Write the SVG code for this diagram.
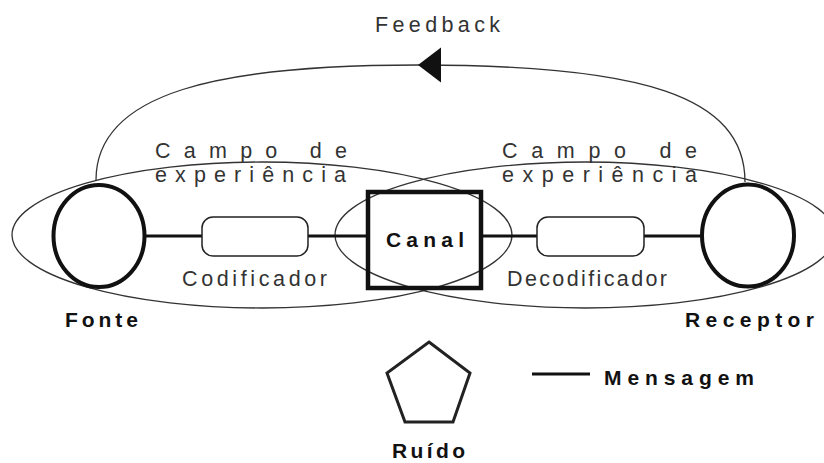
<svg xmlns="http://www.w3.org/2000/svg" width="824" height="463" viewBox="0 0 824 463">
<style>
.field{fill:none;stroke:#333;stroke-width:1.3}
.person{fill:#fff;stroke:#111;stroke-width:4}
.box{fill:#fff;stroke:#222;stroke-width:1.5}
.msg{stroke:#111;stroke-width:3;fill:none}
.fb{fill:none;stroke:#333;stroke-width:1.3}
.t{font-family:"Liberation Sans",Arial,sans-serif;font-size:21.5px;fill:#333}
.b{font-family:"Liberation Sans",Arial,sans-serif;font-size:21px;font-weight:bold;fill:#111}
</style>
<defs>
<marker id="arrow" markerUnits="userSpaceOnUse" markerWidth="24" markerHeight="36" refX="23" refY="17.5" orient="auto">
<path d="M0,0 L23,17.5 L0,35 z" fill="#111"/>
</marker>
</defs>
<rect width="824" height="463" fill="#fff"/>
<g id="campo-fonte">
<ellipse class="field" cx="262" cy="235" rx="250" ry="73"/>
<text class="t" x="155" y="158" textLength="192" lengthAdjust="spacing">Campo de</text>
<text class="t" x="155" y="182" textLength="191" lengthAdjust="spacing">experiência</text>
</g>
<g id="campo-receptor">
<ellipse class="field" cx="585" cy="235" rx="250" ry="73"/>
<text class="t" x="502" y="158" textLength="195" lengthAdjust="spacing">Campo de</text>
<text class="t" x="502" y="182" textLength="195" lengthAdjust="spacing">experiência</text>
</g>
<g id="connectors">
<line class="msg" x1="146" y1="236" x2="202" y2="236"/>
<line class="msg" x1="308" y1="236" x2="368" y2="236"/>
<line class="msg" x1="481" y1="236" x2="537" y2="236"/>
<line class="msg" x1="644" y1="236" x2="701" y2="236"/>
<path class="fb" d="M745 182 C745 95 640 65 418 65" marker-end="url(#arrow)"/>
<path class="fb" d="M418 65 C220 65 96 92 96 180"/>
</g>
<g id="feedback-label">
<text class="t" x="375" y="32" textLength="125" lengthAdjust="spacing">Feedback</text>
</g>
<g id="fonte">
<ellipse class="person" cx="99" cy="236" rx="45.5" ry="51"/>
<text class="b" x="65" y="327" textLength="73" lengthAdjust="spacing">Fonte</text>
</g>
<g id="codificador">
<rect class="box" x="202" y="217" width="106" height="39" rx="11"/>
<text class="t" x="182" y="286" textLength="145" lengthAdjust="spacing">Codificador</text>
</g>
<g id="canal">
<rect x="368" y="192" width="113" height="96" fill="none" stroke="#111" stroke-width="4.5"/>
<text class="b" x="386" y="247" textLength="78" lengthAdjust="spacing">Canal</text>
</g>
<g id="decodificador">
<rect class="box" x="537" y="217" width="107" height="39" rx="11"/>
<text class="t" x="507" y="286" textLength="160" lengthAdjust="spacing">Decodificador</text>
</g>
<g id="receptor">
<ellipse class="person" cx="748" cy="235.5" rx="46" ry="51"/>
<text class="b" x="685" y="327" textLength="129" lengthAdjust="spacing">Receptor</text>
</g>
<g id="ruido">
<polygon points="429,342 470,373 453,422 405,422 387,373" fill="none" stroke="#222" stroke-width="3"/>
<text class="b" x="392" y="458" textLength="73" lengthAdjust="spacing">Ruído</text>
</g>
<g id="legenda">
<line class="msg" x1="532" y1="374" x2="590" y2="374"/>
<text class="b" x="604" y="385" textLength="150" lengthAdjust="spacing">Mensagem</text>
</g>
</svg>
